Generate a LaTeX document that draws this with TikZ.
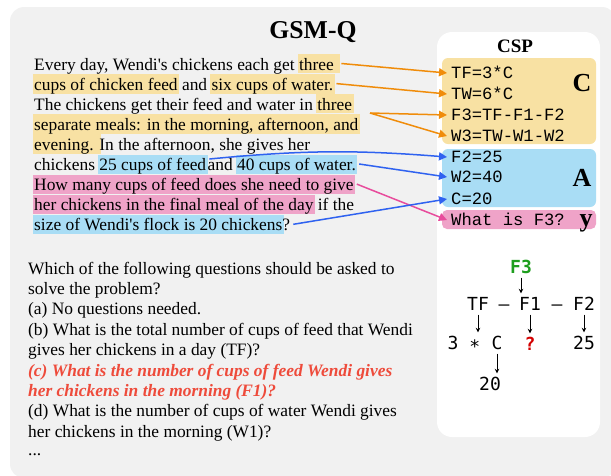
\documentclass[tikz,border=0pt]{standalone}
\usepackage{fontspec}
\setmainfont{Liberation Serif}
\newfontfamily\cspfont{Liberation Mono}
\newfontfamily\treefont{DejaVu Sans Mono}
\usetikzlibrary{arrows.meta,calc}

\definecolor{bggray}{HTML}{F1F1F1}
\definecolor{hlyellow}{HTML}{F8E1A3}
\definecolor{hlblue}{HTML}{A9DDF5}
\definecolor{hlpink}{HTML}{EFA3C8}
\definecolor{arrorange}{HTML}{F08C0A}
\definecolor{arrblue}{HTML}{2F62F0}
\definecolor{arrpink}{HTML}{E84C9C}
\definecolor{answerred}{HTML}{EE4B3B}
\definecolor{goalgreen}{HTML}{1E9E1E}
\definecolor{unknownred}{HTML}{D40000}

% highlighted phrase, box reaches a little past the letters
\newcommand{\hlbox}[2]{{\setlength{\fboxsep}{0pt}\kern-1.5pt\colorbox{#1}{\rule[-3pt]{0pt}{19pt}\kern1.5pt#2\kern1.5pt}\kern-1.5pt}}
\newcommand{\hlY}[1]{\hlbox{hlyellow}{#1}}
\newcommand{\hlB}[1]{\hlbox{hlblue}{#1}}
\newcommand{\hlP}[1]{\hlbox{hlpink}{#1}}

\tikzset{
    txt/.style={anchor=base west, inner xsep=3pt, inner ysep=0pt, text height=16pt, text depth=3pt, font=\fontsize{17.4pt}{20.1pt}\selectfont},
    csp/.style={anchor=west, inner xsep=4pt, inner ysep=1pt, text height=10pt, text depth=0pt, font=\cspfont\fontsize{17.2pt}{20pt}\selectfont},
    biglab/.style={anchor=base, inner sep=0pt, font=\bfseries\fontsize{26pt}{28pt}\selectfont},
    tree/.style={inner xsep=1pt, inner ysep=4pt, text height=13pt, text depth=0pt, font=\treefont\fontsize{18pt}{20pt}\selectfont},
    link/.style={line width=1.5pt, -{Triangle[length=8pt,width=8pt]}},
    down/.style={line width=0.9pt, -{Stealth[length=4.5pt,width=4.5pt]}},
}

\begin{document}
\begin{tikzpicture}[x=1pt, y=-1pt]
    \useasboundingbox (0,0) rectangle (611,475);
    \fill[bggray, rounded corners=14pt] (10,7) rectangle (616,478);
    \node[anchor=base, font=\bfseries\fontsize{25.7pt}{28pt}\selectfont] (title) at (313,38.5) {GSM-Q};

    % problem text
    \node[txt] (l1) at (31,70) {Every day, Wendi\textquotesingle s chickens each get \hlY{three }};
    \node[txt] (l2) at (31,90.1) {\hlY{cups of chicken feed} and \hlY{six cups of water.}};
    \node[txt] (l3) at (31,110.2) {The chickens get their feed and water in \hlY{three}};
    \node[txt] (l4) at (31,130.3) {\hlY{separate meals: in the morning, afternoon, and}};
    \node[txt] (l5) at (31,150.4) {\hlY{evening. }In the afternoon, she gives her};
    \node[txt] (l6) at (31,170.5) {chickens \hlB{25 cups of feed}};
    \node[txt] (l6b) at ([xshift=-5pt]l6.base east) {and \hlB{40 cups of water.}};
    \node[txt] (l7) at (31,190.6) {\hlP{How many cups of feed does she need to give}};
    \node[txt] (l8) at (31,210.7) {\hlP{her chickens in the final meal of the day} if the};
    \node[txt] (l9) at (31,230.8) {\hlB{size of Wendi\textquotesingle s flock is 20 chickens}?};

    % question and choices
    \node[txt] (q1) at (25,274) {Which of the following questions should be asked to};
    \node[txt] (q2) at (25,294.4) {solve the problem?};
    \node[txt] (q3) at (25,314.8) {(a) No questions needed.};
    \node[txt] (q4) at (25,335.2) {(b) What is the total number of cups of feed that Wendi};
    \node[txt] (q5) at (25,355.6) {gives her chickens in a day (TF)?};
    \node[txt, text=answerred] (q6) at (25,376) {\bfseries\itshape (c) What is the number of cups of feed Wendi gives};
    \node[txt, text=answerred] (q7) at (25,396.4) {\bfseries\itshape her chickens in the morning (F1)?};
    \node[txt] (q8) at (25,416.8) {(d) What is the number of cups of water Wendi gives};
    \node[txt] (q9) at (25,437.2) {her chickens in the morning (W1)?};
    \node[txt] (q10) at (25,455) {...};

    % CSP panel
    \fill[white, rounded corners=15pt] (437,32) rectangle (600,437);
    \fill[hlyellow, rounded corners=6pt] (442,58) rectangle (596,144);
    \fill[hlblue, rounded corners=6pt] (442,149) rectangle (596,207);
    \fill[hlpink, rounded corners=5pt] (442,210) rectangle (596,229);
    \node[anchor=base, font=\bfseries\fontsize{19pt}{20pt}\selectfont] (csptitle) at (515,52) {CSP};

    \node[csp] (tf) at (447,73) {TF=3*C};
    \node[csp] (tw) at (447,94) {TW=6*C};
    \node[csp] (fthree) at (447,115) {F3=TF-F1-F2};
    \node[csp] (wthree) at (447,136) {W3=TW-W1-W2};
    \node[csp] (ftwo) at (447,157) {F2=25};
    \node[csp] (wtwo) at (447,177) {W2=40};
    \node[csp] (cc) at (447,199) {C=20};
    \node[csp] (ask) at (447,220) {What is F3?};

    \node[biglab] (clab) at (582,91) {C};
    \node[biglab] (alab) at (582,186) {A};
    \node[biglab] (ylab) at (586,226) {y};

    % links from the text to the CSP
    \coordinate (meals) at (370,113);
    \draw[link, arrorange] (l1.east) -- (tf.west);
    \draw[link, arrorange] (l2.east) -- (tw.west);
    \draw[link, arrorange] (meals) -- (fthree.west);
    \draw[link, arrorange] (meals) -- (wthree.west);
    \draw[link, arrblue] ([yshift=5pt]l6.east) to[bend left=5] (ftwo.west);
    \draw[link, arrblue] (l6b.east) -- (wtwo.west);
    \draw[link, arrpink] (l7.east) -- (ask.west);
    \draw[link, arrblue] (l9.east) -- (cc.west);

    % tree for F3
    \node[tree, text=goalgreen, font=\treefont\bfseries\fontsize{18pt}{20pt}\selectfont] (tgoal) at (521,267) {F3};
    \node[tree] (ttf) at (478,304) {TF};
    \node[tree] (tmina) at (504,304) {–};
    \node[tree] (tfone) at (530,304) {F1};
    \node[tree] (tminb) at (557,304) {–};
    \node[tree] (tftwo) at (584,304) {F2};
    \node[tree] (tmul) at (464,343) {3 ∗};
    \node[tree] (tc) at (497,343) {C};
    \node[tree, text=unknownred, font=\treefont\bfseries\fontsize{18pt}{20pt}\selectfont] (tq) at (530,344) {?};
    \node[tree] (t25) at (584,343) {25};
    \node[tree] (t20) at (490,384) {20};

    \draw[down] (tgoal) -- (tgoal |- tfone.north);
    \draw[down] (ttf) -- (ttf |- tmul.north);
    \draw[down] (tfone) -- (tq);
    \draw[down] (tftwo) -- (t25);
    \draw[down] (tc) -- (tc |- t20.north);
\end{tikzpicture}
\end{document}
